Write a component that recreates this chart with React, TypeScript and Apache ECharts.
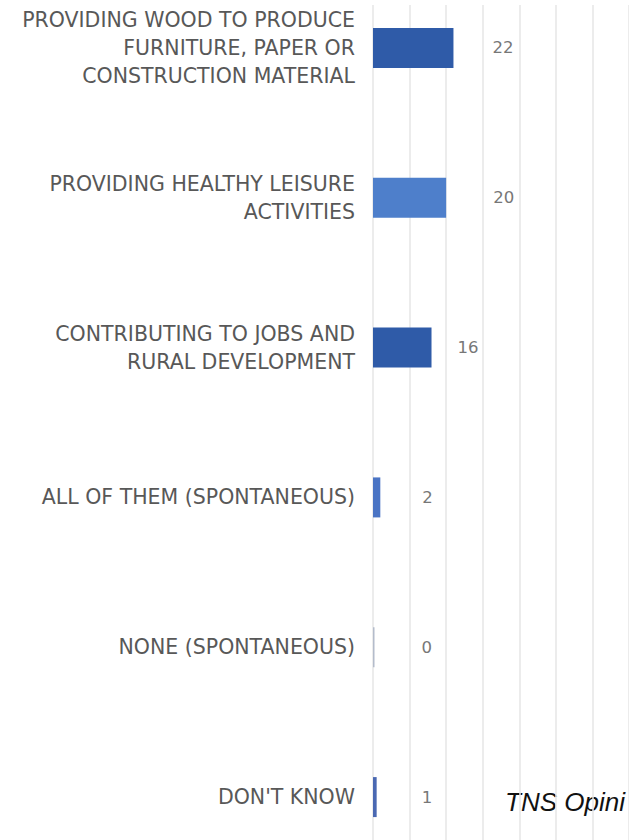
import React, { useEffect, useRef } from "react";
import * as echarts from "echarts";

const categories = [
  "PROVIDING WOOD TO PRODUCE\nFURNITURE, PAPER OR\nCONSTRUCTION MATERIAL",
  "PROVIDING HEALTHY LEISURE\nACTIVITIES",
  "CONTRIBUTING TO JOBS AND\nRURAL DEVELOPMENT",
  "ALL OF THEM (SPONTANEOUS)",
  "NONE (SPONTANEOUS)",
  "DON'T KNOW",
];
const values = [22, 20, 16, 2, 0, 1];
const barColors = ["#2f5ba8", "#4e7fcb", "#2f5ba8", "#4a74c4", "#b4bccb", "#4a68b2"];
const labelGaps = [39, 47, 26, 42, 47, 45];
const xTicks = { min: 0, max: 70, interval: 10 };
const sourceText = "TNS Opini";

export default function App() {
  const ref = useRef<HTMLDivElement>(null);
  useEffect(() => {
    document.body.style.margin = "0";
    const chart = echarts.init(ref.current!, null, { renderer: "svg" });
    const plotLeft = 373;
    const plotWidth = 256.7;
    const shift = 27;
    chart.setOption({
      animation: false,
      grid: [
        { left: plotLeft, width: plotWidth, top: 0, height: 899, containLabel: false },
        { left: plotLeft, width: plotWidth, top: 5 + shift, bottom: 0, containLabel: false },
      ],
      xAxis: [
        {
          gridIndex: 0,
          type: "value",
          min: xTicks.min,
          max: xTicks.max,
          interval: xTicks.interval,
          axisLine: { show: false },
          axisTick: { show: false },
          axisLabel: { show: false },
          splitLine: { show: false },
        },
        {
          gridIndex: 1,
          type: "value",
          min: xTicks.min,
          max: xTicks.max,
          interval: xTicks.interval,
          axisLine: { show: false },
          axisTick: { show: false },
          axisLabel: { show: false },
          splitLine: { show: true, lineStyle: { color: "#e6e6e6", width: 1.5 } },
        },
      ],
      yAxis: [
        {
          gridIndex: 0,
          type: "category",
          inverse: true,
          data: categories,
          axisLine: { show: false },
          axisTick: { show: false },
          axisLabel: {
            margin: 18,
            align: "right",
            color: "#585858",
            fontFamily: "DejaVu Sans",
            fontSize: 20.5,
            lineHeight: 28,
          },
        },
        {
          gridIndex: 1,
          type: "value",
          min: 0,
          max: 1,
          show: false,
        },
      ],
      series: [
        {
          type: "bar",
          xAxisIndex: 0,
          yAxisIndex: 0,
          barWidth: 40,
          barMinHeight: 1.5,
          data: values.map((v, i) => ({
            value: v,
            itemStyle: { color: barColors[i] },
            label: { distance: labelGaps[i] },
          })),
          label: {
            show: true,
            position: "right",
            color: "#777777",
            fontFamily: "DejaVu Sans",
            fontSize: 16.5,
          },
        },
        {
          type: "line",
          xAxisIndex: 1,
          yAxisIndex: 1,
          data: [],
          silent: true,
        },
      ],
      graphic: [
        {
          type: "text",
          x: 505,
          y: 802 + shift,
          style: {
            text: sourceText,
            fill: "#111111",
            font: "italic 26px 'Liberation Sans'",
            verticalAlign: "middle",
          },
        },
      ],
    });
    return () => chart.dispose();
  }, []);
  return (
    <div style={{ position: "relative", width: 629, height: 840, overflow: "hidden" }}>
      <div ref={ref} style={{ position: "absolute", left: 0, top: -27, width: 629, height: 900 }} />
    </div>
  );
}
